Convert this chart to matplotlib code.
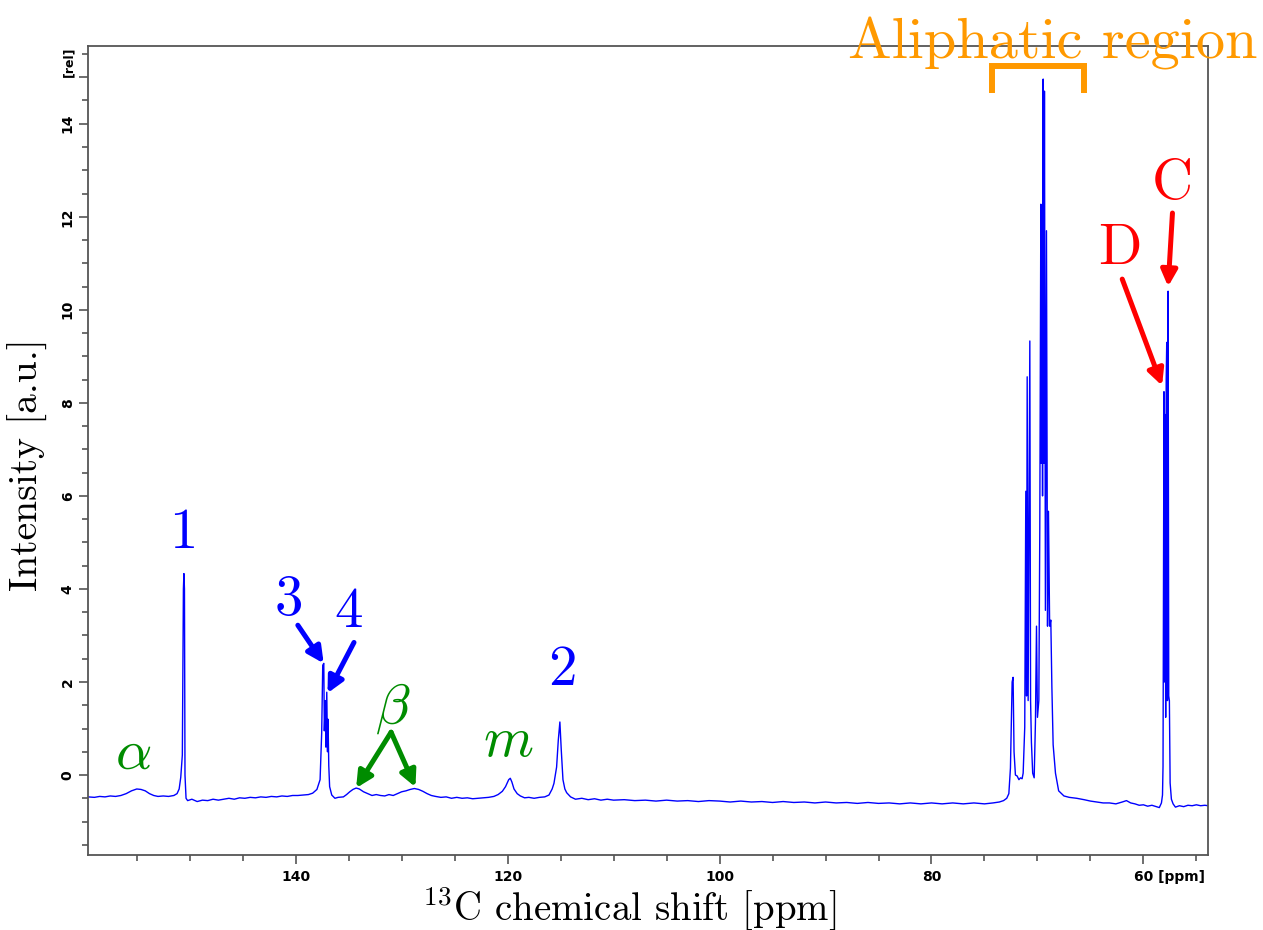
import matplotlib
matplotlib.use("Agg")
import matplotlib.pyplot as plt
import numpy as np

plt.rcParams['mathtext.fontset'] = 'cm'
plt.rcParams['axes.unicode_minus'] = False

# spectrum trace (ppm, intensity)
ppm = [159.6, 159.0, 158.5, 158.0, 157.5, 157.0, 156.5, 156.0, 155.5, 155.0, 154.6, 154.2, 153.8, 153.4,
       153.0, 152.5, 152.0, 151.5, 151.2, 151.0, 150.85, 150.7, 150.6, 150.55, 150.5, 150.45, 150.35, 150.2,
       149.8, 149.3, 148.8, 148.3, 147.8, 147.3, 146.8, 146.3, 145.8, 145.3, 144.8, 144.3, 143.8, 143.3,
       142.8, 142.3, 141.8, 141.3, 140.8, 140.3, 139.8, 139.3, 138.8, 138.4, 138.0, 137.7, 137.55, 137.45,
       137.35, 137.3, 137.2, 137.15, 137.07, 137.0, 136.95, 136.88, 136.8, 136.6, 136.3, 136.0, 135.5,
       135.2, 134.9, 134.6, 134.3, 134.0, 133.6, 133.2, 132.8, 132.4, 132.0, 131.6, 131.2, 130.8, 130.4,
       130.0, 129.6, 129.2, 128.8, 128.4, 128.0, 127.6, 127.2, 126.8, 126.3, 125.8, 125.3, 124.8, 124.3,
       123.8, 123.3, 122.8, 122.3, 121.8, 121.3, 120.9, 120.5, 120.2, 119.9, 119.75, 119.6, 119.4, 119.1,
       118.8, 118.4, 118.0, 117.5, 117.0, 116.5, 116.1, 115.8, 115.63, 115.38, 115.22, 115.07, 114.94,
       114.78, 114.6, 114.43, 114.06, 113.6, 113.0, 112.4, 111.8, 111.2, 110.6, 110.0, 109.0, 108.0, 107.0,
       106.0, 105.0, 104.0, 103.0, 102.0, 101.0, 100.0, 99.0, 98.0, 97.0, 96.0, 95.0, 94.0, 93.0, 92.0,
       91.0, 90.0, 89.0, 88.0, 87.0, 86.0, 85.0, 84.0, 83.0, 82.0, 81.0, 80.0, 79.0, 78.0, 77.0, 76.0, 75.0,
       74.2, 73.6, 73.2, 72.9, 72.7, 72.55, 72.39, 72.3, 72.21, 72.08, 71.92, 71.75, 71.6, 71.45, 71.35,
       71.2, 71.1, 71.03, 70.97, 70.88, 70.72, 70.65, 70.57, 70.45, 70.31, 70.19, 70.09, 70.0, 69.87,
       69.78, 69.68, 69.63, 69.57, 69.52, 69.46, 69.4, 69.34, 69.25, 69.15, 69.05, 68.96, 68.85, 68.74,
       68.64, 68.52, 68.3, 68.0, 67.5, 67.0, 66.3, 65.6, 65.0, 64.4, 63.8, 63.2, 62.6, 62.0, 61.6, 61.2,
       60.8, 60.4, 60.0, 59.6, 59.2, 58.8, 58.5, 58.3, 58.2, 58.15, 58.06, 58.02, 57.96, 57.9, 57.85, 57.8,
       57.73, 57.67, 57.61, 57.55, 57.48, 57.36, 57.2, 56.98, 56.6, 56.2, 55.8, 55.4, 55.0, 54.6, 54.2, 53.9]
intensity = [-0.47, -0.48, -0.46, -0.47, -0.45, -0.46, -0.44, -0.40, -0.34, -0.30, -0.31, -0.34, -0.40, -0.44,
             -0.46, -0.45, -0.46, -0.44, -0.40, -0.30, -0.05, 0.43, 4.0, 4.33, 4.0, 0.0, -0.5, -0.55,
             -0.52, -0.57, -0.54, -0.55, -0.52, -0.54, -0.52, -0.50, -0.52, -0.49, -0.50, -0.48, -0.49, -0.47,
             -0.48, -0.46, -0.47, -0.45, -0.46, -0.44, -0.44, -0.43, -0.42, -0.39, -0.31, -0.10, 0.9, 2.36,
             2.4, 0.95, 1.6, 0.6, 1.78, 0.5, 1.2, 0.2, -0.25, -0.43, -0.50, -0.48, -0.47,
             -0.42, -0.36, -0.31, -0.28, -0.30, -0.36, -0.40, -0.44, -0.42, -0.44, -0.45, -0.42, -0.44, -0.40,
             -0.36, -0.34, -0.31, -0.29, -0.31, -0.35, -0.40, -0.44, -0.46, -0.48, -0.47, -0.50, -0.48, -0.50,
             -0.49, -0.51, -0.50, -0.49, -0.48, -0.46, -0.42, -0.35, -0.25, -0.10, -0.07, -0.15, -0.30, -0.40,
             -0.45, -0.49, -0.48, -0.50, -0.48, -0.47, -0.43, -0.30, -0.18, 0.17, 0.75, 1.14, 0.54,
             -0.10, -0.30, -0.38, -0.47, -0.52, -0.50, -0.53, -0.51, -0.54, -0.52, -0.54, -0.53, -0.55, -0.54,
             -0.56, -0.54, -0.56, -0.55, -0.57, -0.55, -0.56, -0.58, -0.56, -0.58, -0.57, -0.59, -0.57, -0.59, -0.58,
             -0.60, -0.58, -0.60, -0.59, -0.61, -0.59, -0.61, -0.60, -0.62, -0.60, -0.62, -0.60, -0.62, -0.60, -0.62, -0.60, -0.62,
             -0.60, -0.58, -0.55, -0.50, -0.40, 0.15, 2.0, 2.1, 0.5, 0.0, -0.02, -0.10, -0.06, -0.08, 0.04,
             1.03, 6.1, 1.7, 8.56, 1.6, 9.33, 1.6, 0.7, 0.04, -0.06, 1.14, 3.2, 1.24, 1.6,
             5.3, 12.27, 6.7, 11.2, 6.0, 14.96, 6.7, 14.7, 3.54, 11.7, 3.2, 5.67, 3.2, 3.33,
             1.9, 0.65, 0.04, -0.34, -0.45, -0.48, -0.50, -0.53, -0.56, -0.58, -0.60, -0.60, -0.62, -0.58, -0.55, -0.60,
             -0.62, -0.65, -0.64, -0.67, -0.65, -0.68, -0.70, -0.60, -0.43, 0.19, 8.24, 2.0, 7.75, 1.24, 8.5, 9.3,
             1.6, 10.4, 1.7, 1.6, -0.17, -0.52, -0.62, -0.69, -0.66, -0.68, -0.65, -0.66, -0.64, -0.66, -0.65, -0.66]

x_major = [140, 120, 100, 80, 60]
x_major_labels = ['140', '120', '100', '80', '']
y_major = [0, 2, 4, 6, 8, 10, 12, 14, 15]
y_major_labels = ['0', '2', '4', '6', '8', '10', '12', '14', '']

fig = plt.figure(figsize=(12.63, 9.30), dpi=100)
ax = fig.add_axes([0.0697, 0.0806, 0.8868, 0.8699])

ax.plot(ppm, intensity, color='blue', lw=1.0)

ax.set_xlim(159.6, 53.9)
ax.set_ylim(-1.72, 15.67)

for s in ax.spines.values():
    s.set_color('#555555')
    s.set_linewidth(1.3)

ax.set_xticks(x_major)
ax.set_xticklabels(x_major_labels)
ax.set_xticks(np.arange(55, 160, 5), minor=True)
ax.set_yticks(y_major)
ax.set_yticklabels(y_major_labels)
ax.set_yticks(np.arange(-1.5, 15.6, 0.5), minor=True)
ax.tick_params(which='both', direction='out', color='#555555', width=1.2)
ax.tick_params(which='major', length=6.5)
ax.tick_params(which='minor', length=4.3)
ax.tick_params(axis='x', pad=4, labelsize=10)
ax.tick_params(axis='y', pad=3, labelsize=10, labelrotation=90)
for lab in ax.get_xticklabels() + ax.get_yticklabels():
    lab.set_fontweight('bold')
for lab in ax.get_yticklabels():
    lab.set_va('center')

ax.annotate('[rel]', xy=(0, 15), xycoords=('axes fraction', 'data'), xytext=(-9.5, 0),
            textcoords='offset points', rotation=90, ha='right', va='bottom',
            fontsize=9, fontweight='bold')
ax.annotate('60 [ppm]', xy=(60, 0), xycoords=('data', 'axes fraction'), xytext=(-7, -10.5),
            textcoords='offset points', ha='left', va='top', fontsize=10, fontweight='bold')

ax.set_xlabel(r'$^{13}$C chemical shift [ppm]', family='cmr10', fontsize=28)
ax.set_ylabel('Intensity [a.u.]', family='cmr10', fontsize=28.5)
ax.xaxis.set_label_coords(0.483, -0.036)
ax.yaxis.set_label_coords(-0.036, 0.482)

# peak labels
big = 41
ax.text(150.57, 5.2, '1', color='blue', fontsize=big, family='cmr10', ha='center', va='center')
ax.text(140.66, 3.75, '3', color='blue', fontsize=big, family='cmr10', ha='center', va='center')
ax.text(135.0, 3.5, '4', color='blue', fontsize=big, family='cmr10', ha='center', va='center')
ax.text(114.8, 2.25, '2', color='blue', fontsize=big, family='cmr10', ha='center', va='center')
ax.text(155.3, 0.47, r'$\alpha$', color='#008c00', fontsize=big, ha='center', va='center')
ax.text(130.85, 1.44, r'$\beta$', color='#008c00', fontsize=big, ha='center', va='center')
ax.text(119.9, 0.75, r'$m$', color='#008c00', fontsize=big, ha='center', va='center')
ax.text(62.2, 11.3, 'D', color='red', fontsize=big, family='cmr10', ha='center', va='center')
ax.text(57.26, 12.7, 'C', color='red', fontsize=big, family='cmr10', ha='center', va='center')


def arrow(tail, head, color):
    ax.annotate('', xy=head, xytext=tail,
                arrowprops=dict(arrowstyle='-|>', color=color, lw=3.6, mutation_scale=24,
                                shrinkA=0, shrinkB=0))


arrow((139.8, 3.22), (137.36, 2.4), 'blue')
arrow((134.5, 2.85), (137.0, 1.76), 'blue')
arrow((131.0, 0.92), (134.3, -0.28), '#008c00')
arrow((131.0, 0.92), (128.7, -0.26), '#008c00')
arrow((62.0, 10.66), (58.24, 8.37), 'red')
arrow((57.26, 12.08), (57.67, 10.5), 'red')

# aliphatic bracket
ax.plot([74.27, 74.27, 65.57, 65.57], [14.66, 15.24, 15.24, 14.66], color='#ff9900', lw=4.3,
        solid_joinstyle='miter', solid_capstyle='butt', clip_on=False)
ax.text(68.58, 15.41, 'Aliphatic region', color='#ff9900', fontsize=42, family='cmr10',
        ha='center', va='baseline', clip_on=False)

fig.savefig('out.png', dpi=100)
